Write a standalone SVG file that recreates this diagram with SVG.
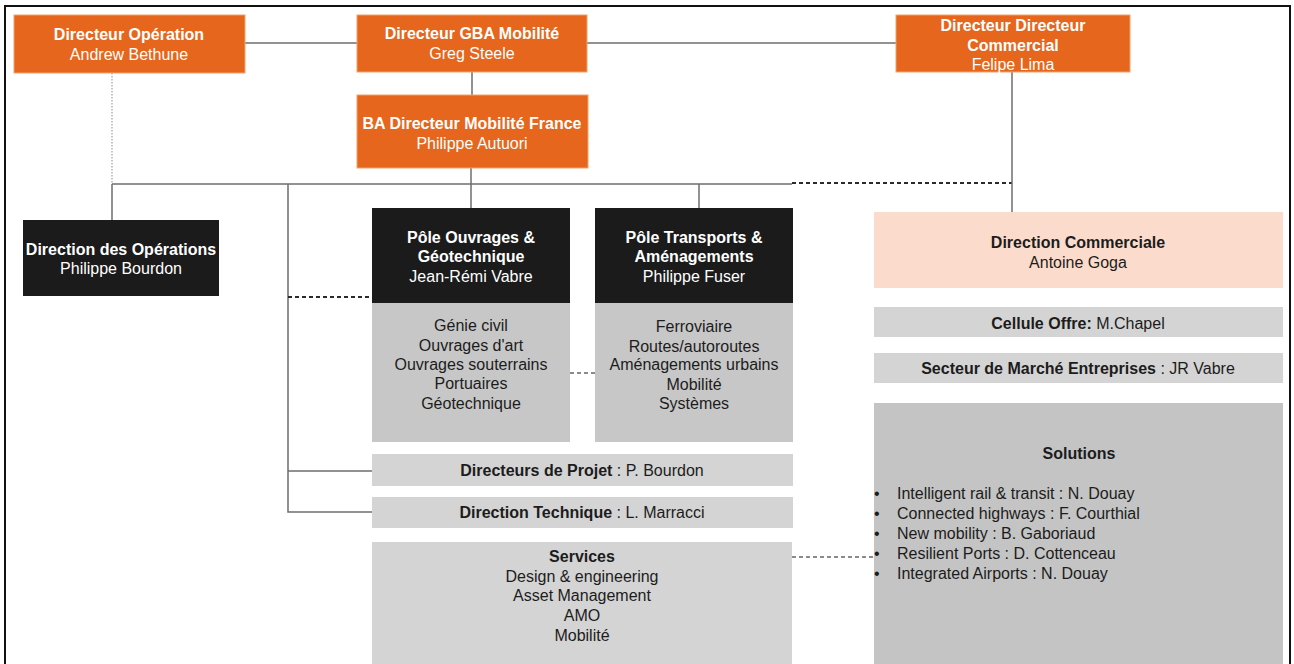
<svg xmlns="http://www.w3.org/2000/svg" width="1294" height="664" viewBox="0 0 1294 664">
<style>
text{font-family:"Liberation Sans",Arial,sans-serif;font-size:16px;text-anchor:middle}
.b{font-weight:bold}
.w{fill:#ffffff}
.d{fill:#1c1c1c}
.org{fill:#E5661C;stroke:#F2A26A;stroke-width:1}
.blk{fill:#1b1b1b}
.gry{fill:#C7C7C7}
.bar{fill:#D4D4D4}
.sol{fill:#C4C4C4}
.pch{fill:#FBDCCC}
.ln{stroke:#6e6e6e;stroke-width:1.5;fill:none}
.dsh{stroke:#2a2a2a;stroke-width:2;stroke-dasharray:4 3;fill:none}
.dsh2{stroke:#666;stroke-width:1.5;stroke-dasharray:4 3;fill:none}
.dot{stroke:#a0a0a0;stroke-width:1.2;stroke-dasharray:1.5 1.5;fill:none}
.bl{text-anchor:start}
</style>
<rect x="0" y="0" width="1294" height="664" fill="#ffffff"/>
<rect x="5" y="6" width="1285" height="670" fill="none" stroke="#111" stroke-width="2"/>

<g id="connectors">
<line class="ln" x1="245" y1="43" x2="357" y2="43"/>
<line class="ln" x1="587" y1="43" x2="896" y2="43"/>
<line class="ln" x1="472" y1="72" x2="472" y2="95"/>
<line class="ln" x1="471" y1="168" x2="471" y2="208"/>
<line class="dot" x1="112" y1="73" x2="112" y2="184"/>
<line class="ln" x1="112" y1="184" x2="792" y2="184"/>
<line class="ln" x1="112" y1="184" x2="112" y2="220"/>
<line class="dsh" x1="792" y1="183" x2="1012" y2="183"/>
<line class="ln" x1="1012" y1="72" x2="1012" y2="212"/>
<line class="ln" x1="699" y1="184" x2="699" y2="208"/>
<path class="ln" d="M288 184 V512 H372 M288 471 H372"/>
<line class="dsh" x1="288" y1="297" x2="372" y2="297"/>
<line class="dsh2" x1="570" y1="373" x2="595" y2="373"/>
<line class="dsh2" x1="792" y1="557" x2="874" y2="557"/>
</g>

<g id="dir-operation">
<rect class="org" x="14" y="15" width="231" height="58"/>
<text class="b w" x="129" y="40">Directeur Opération</text>
<text class="w" x="129" y="60">Andrew Bethune</text>
</g>

<g id="dir-gba">
<rect class="org" x="357" y="15" width="230" height="57"/>
<text class="b w" x="472" y="39">Directeur GBA Mobilité</text>
<text class="w" x="472" y="59">Greg Steele</text>
</g>

<g id="ba-france">
<rect class="org" x="357" y="95" width="231" height="73"/>
<text class="b w" x="472" y="129">BA Directeur Mobilité France</text>
<text class="w" x="472" y="149">Philippe Autuori</text>
</g>

<g id="dir-commercial">
<rect class="org" x="896" y="15" width="234" height="57"/>
<text class="b w" x="1013" y="31">Directeur Directeur</text>
<text class="b w" x="1013" y="51">Commercial</text>
<text class="w" x="1013" y="70">Felipe Lima</text>
</g>

<g id="direction-operations">
<rect class="blk" x="23" y="220" width="196" height="76"/>
<text class="b w" x="121" y="255">Direction des Opérations</text>
<text class="w" x="121" y="274">Philippe Bourdon</text>
</g>

<g id="pole-ouvrages">
<rect class="blk" x="372" y="208" width="198" height="95"/>
<rect class="gry" x="372" y="303" width="198" height="139"/>
<text class="b w" x="471" y="243">Pôle Ouvrages &amp;</text>
<text class="b w" x="471" y="262">Géotechnique</text>
<text class="w" x="471" y="282">Jean-Rémi Vabre</text>
<text class="d" x="471" y="331">Génie civil</text>
<text class="d" x="471" y="351">Ouvrages d'art</text>
<text class="d" x="471" y="370">Ouvrages souterrains</text>
<text class="d" x="471" y="389">Portuaires</text>
<text class="d" x="471" y="409">Géotechnique</text>
</g>

<g id="pole-transports">
<rect class="blk" x="595" y="208" width="198" height="95"/>
<rect class="gry" x="595" y="303" width="198" height="139"/>
<text class="b w" x="694" y="243">Pôle Transports &amp;</text>
<text class="b w" x="694" y="262">Aménagements</text>
<text class="w" x="694" y="282">Philippe Fuser</text>
<text class="d" x="694" y="332">Ferroviaire</text>
<text class="d" x="694" y="352">Routes/autoroutes</text>
<text class="d" x="694" y="370">Aménagements urbains</text>
<text class="d" x="694" y="390">Mobilité</text>
<text class="d" x="694" y="409">Systèmes</text>
</g>

<g id="directeurs-projet">
<rect class="bar" x="372" y="454" width="421" height="32"/>
<text class="d" x="582" y="476"><tspan class="b">Directeurs de Projet</tspan> : P. Bourdon</text>
</g>

<g id="direction-technique">
<rect class="bar" x="372" y="497" width="421" height="31"/>
<text class="d" x="582" y="518"><tspan class="b">Direction Technique</tspan> : L. Marracci</text>
</g>

<g id="services">
<rect class="bar" x="372" y="542" width="420" height="130"/>
<text class="b d" x="582" y="562">Services</text>
<text class="d" x="582" y="582">Design &amp; engineering</text>
<text class="d" x="582" y="601">Asset Management</text>
<text class="d" x="582" y="621">AMO</text>
<text class="d" x="582" y="641">Mobilité</text>
</g>

<g id="direction-commerciale">
<rect class="pch" x="874" y="212" width="409" height="76"/>
<text class="b d" x="1078" y="248">Direction Commerciale</text>
<text class="d" x="1078" y="268">Antoine Goga</text>
</g>

<g id="cellule-offre">
<rect class="bar" x="874" y="307" width="409" height="30"/>
<text class="d" x="1078" y="329"><tspan class="b">Cellule Offre:</tspan> M.Chapel</text>
</g>

<g id="secteur-marche">
<rect class="bar" x="874" y="353" width="409" height="30"/>
<text class="d" x="1078" y="374"><tspan class="b">Secteur de Marché Entreprises</tspan> : JR Vabre</text>
</g>

<g id="solutions">
<rect class="sol" x="874" y="403" width="409" height="270"/>
<text class="b d" x="1079" y="459">Solutions</text>
<text class="d bl" x="874" y="499">•</text>
<text class="d bl" x="897" y="499">Intelligent rail &amp; transit : N. Douay</text>
<text class="d bl" x="874" y="519">•</text>
<text class="d bl" x="897" y="519">Connected highways : F. Courthial</text>
<text class="d bl" x="874" y="539">•</text>
<text class="d bl" x="897" y="539">New mobility : B. Gaboriaud</text>
<text class="d bl" x="874" y="559">•</text>
<text class="d bl" x="897" y="559">Resilient Ports : D. Cottenceau</text>
<text class="d bl" x="874" y="579">•</text>
<text class="d bl" x="897" y="579">Integrated Airports : N. Douay</text>
</g>
</svg>
